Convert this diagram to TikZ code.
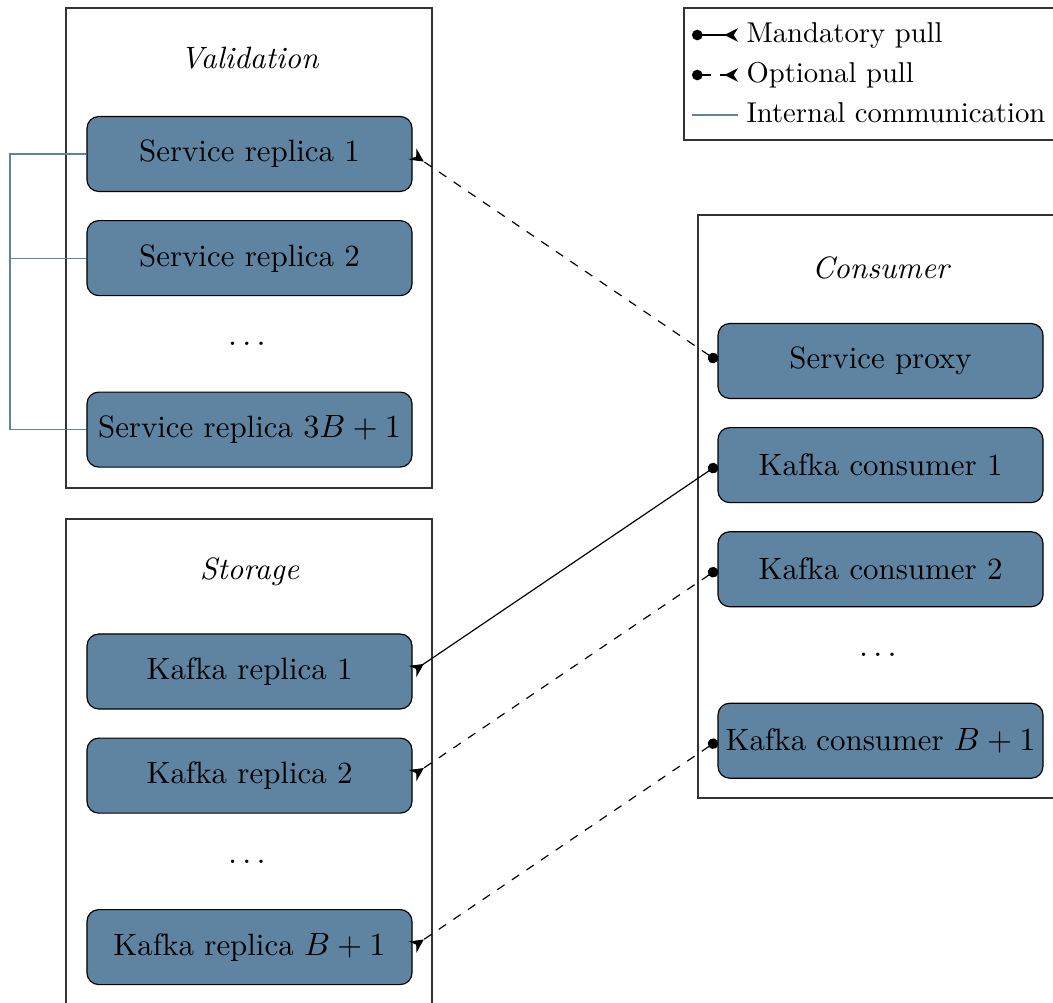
\documentclass[tikz,border=0pt]{standalone}
\usepackage{amssymb}
\usepackage{mathtools}
\usepackage{tikz}
\usetikzlibrary{positioning,arrows.meta}

\definecolor{replicablue}{RGB}{94,132,162}

\tikzset{
  replica/.style={draw=black, fill=replicablue, rounded corners=4pt,
    minimum width=110.5pt, minimum height=25.5pt, inner sep=2pt,
    font=\fontsize{10.5}{12.6}\selectfont},
  gapdots/.style={minimum height=13pt, inner sep=0pt, font=\fontsize{10.5}{12.6}\selectfont},
  grouptitle/.style={font=\fontsize{10.5}{12.6}\selectfont\itshape},
  groupbox/.style={draw=black!80},
  mandatory/.style={{Circle[length=3.6pt]}-{Stealth[reversed,length=4.6pt,width=4.6pt]}},
  optional/.style={mandatory, dashed},
  internal/.style={draw=replicablue},
  legendtext/.style={anchor=west, inner sep=1pt, text height=1.6ex, text depth=.4ex,
    font=\fontsize{9.75}{11.7}\selectfont},
}

\begin{document}
\begin{tikzpicture}[x=0.34pt, y=-0.34pt, node distance=9.5pt]
  \clip (0,0) rectangle (1053,1003);
  \useasboundingbox (0,0) rectangle (1053,1003);

  % groups
  \draw[groupbox] (66,8) rectangle (432,488);
  \draw[groupbox] (66,519) rectangle (432,1006);
  \draw[groupbox] (698,215) rectangle (1064,798);
  \draw[groupbox] (684,8) rectangle (1060,140);

  % validation
  \node[grouptitle] (valtitle) at (249.5,58) {Validation};
  \node[replica] (sr1) at (249.5,154) {Service replica 1};
  \node[replica, below=of sr1] (sr2) {Service replica 2};
  \node[gapdots, below=of sr2] (srdots) {$\dots$};
  \node[replica, below=of srdots] (srn) {Service replica $3B+1$};

  % storage
  \node[grouptitle] (stotitle) at (249.5,572) {Storage};
  \node[replica] (kr1) at (249.5,671.5) {Kafka replica 1};
  \node[replica, below=of kr1] (kr2) {Kafka replica 2};
  \node[gapdots, below=of kr2] (krdots) {$\dots$};
  \node[replica, below=of krdots] (krn) {Kafka replica $B+1$};

  % consumer
  \node[grouptitle] (contitle) at (880.5,268) {Consumer};
  \node[replica] (proxy) at (880.5,361) {Service proxy};
  \node[replica, below=of proxy] (kc1) {Kafka consumer 1};
  \node[replica, below=of kc1] (kc2) {Kafka consumer 2};
  \node[gapdots, below=of kc2] (kcdots) {$\dots$};
  \node[replica, below=of kcdots] (kcn) {Kafka consumer $B+1$};

  % internal communication
  \coordinate (bus) at (10,154);
  \draw[internal] (sr1.west) -- (sr1.west -| bus) |- (srn.west);
  \draw[internal] (sr2.west) -- (sr2.west -| bus);

  % pulls
  \draw[optional] (proxy.west) -- (sr1.east);
  \draw[mandatory] (kc1.west) -- (kr1.east);
  \draw[optional] (kc2.west) -- (kr2.east);
  \draw[optional] (kcn.west) -- (krn.east);

  % legend
  \coordinate (lg1a) at (692,35);  \coordinate (lg1b) at (738,35);
  \coordinate (lg2a) at (692,75);  \coordinate (lg2b) at (738,75);
  \coordinate (lg3a) at (692,115); \coordinate (lg3b) at (738,115);
  \draw[mandatory] (lg1a) -- (lg1b);
  \draw[optional] (lg2a) -- (lg2b);
  \draw[internal] (lg3a) -- (lg3b);
  \node[legendtext] (lgmand) at (743,35) {Mandatory pull};
  \node[legendtext] (lgopt) at (743,75) {Optional pull};
  \node[legendtext] (lgint) at (743,115) {Internal communication};
\end{tikzpicture}
\end{document}
